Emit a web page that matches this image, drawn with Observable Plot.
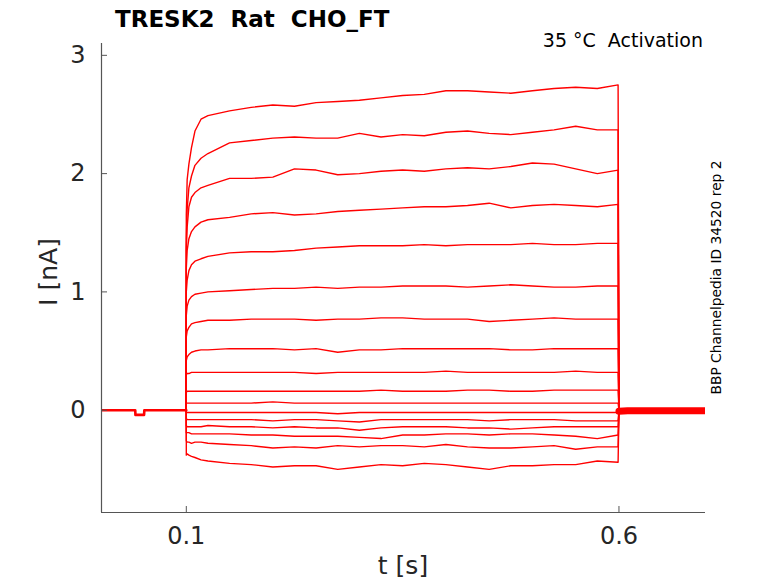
<!DOCTYPE html>
<html>
<head>
<meta charset="utf-8">
<script src="https://cdn.jsdelivr.net/npm/d3@7"></script>
<script src="https://cdn.jsdelivr.net/npm/@observablehq/plot@0.6"></script>
<style>
  html, body { margin: 0; padding: 0; background: #fff; }
  #chart { width: 778px; height: 583px; }
</style>
</head>
<body>
<div id="chart"></div>
<script>
// ---- data ----
const titleText = "TRESK2  Rat  CHO_FT";
const conditionText = "35 °C  Activation";
const sideText = "BBP Channelpedia ID 34520 rep 2";
const xLabel = "t [s]";
const yLabel = "I [nA]";
const xTicks = [0.1, 0.6];
const yTicks = [0, 1, 2, 3];
const xDomain = [0.002, 0.7];
const yDomain = [-0.865, 3.1];

const stepOn = 0.1;
const stepOff = 0.6;
const holding = 0;

// holding segment before the step (small dip near 45 ms)
const preTimes  = [0.002, 0.041, 0.0412, 0.0512, 0.0515, 0.1];
const preValues = [0, 0, -0.04, -0.04, 0, 0];
// holding segment after the step
const tailTimes  = [0.6, 0.61, 0.7];
const tailValues = [-0.01, -0.005, -0.005];

// sample times during the step
const sweepTimes = [0.1, 0.101, 0.103, 0.106, 0.11, 0.117, 0.125, 0.15, 0.175, 0.2, 0.225, 0.25, 0.275,
  0.3, 0.325, 0.35, 0.375, 0.4, 0.425, 0.45, 0.475, 0.5, 0.525, 0.55, 0.575, 0.599];

const sweep01 = [1.65, 1.95, 2.08, 2.22, 2.36, 2.46, 2.49, 2.53, 2.56, 2.58, 2.57, 2.60, 2.61, 2.62, 2.64, 2.66, 2.67, 2.70, 2.70, 2.69, 2.68, 2.70, 2.72, 2.73, 2.72, 2.75];
const sweep02 = [1.45, 1.70, 1.88, 1.98, 2.07, 2.13, 2.17, 2.26, 2.28, 2.30, 2.31, 2.30, 2.30, 2.34, 2.31, 2.33, 2.32, 2.35, 2.36, 2.34, 2.33, 2.35, 2.37, 2.40, 2.37, 2.37];
const sweep03 = [1.35, 1.55, 1.72, 1.80, 1.84, 1.88, 1.90, 1.96, 1.96, 1.97, 2.04, 2.03, 1.99, 2.00, 2.02, 2.03, 2.02, 2.04, 2.05, 2.04, 2.06, 2.09, 2.08, 2.04, 2.00, 2.03];
const sweep04 = [1.20, 1.35, 1.45, 1.51, 1.55, 1.59, 1.61, 1.63, 1.66, 1.67, 1.65, 1.66, 1.68, 1.69, 1.70, 1.71, 1.72, 1.72, 1.73, 1.75, 1.71, 1.73, 1.74, 1.73, 1.72, 1.74];
const sweep05 = [1.00, 1.10, 1.18, 1.23, 1.26, 1.28, 1.30, 1.33, 1.34, 1.34, 1.35, 1.37, 1.38, 1.39, 1.39, 1.39, 1.40, 1.39, 1.40, 1.40, 1.40, 1.41, 1.40, 1.40, 1.41, 1.41];
const sweep06 = [0.80, 0.88, 0.93, 0.96, 0.98, 0.99, 1.00, 1.01, 1.02, 1.03, 1.03, 1.04, 1.03, 1.04, 1.04, 1.05, 1.05, 1.05, 1.04, 1.05, 1.06, 1.05, 1.04, 1.04, 1.05, 1.05];
const sweep07 = [0.62, 0.67, 0.70, 0.73, 0.74, 0.75, 0.76, 0.76, 0.77, 0.77, 0.77, 0.76, 0.77, 0.77, 0.78, 0.78, 0.77, 0.77, 0.77, 0.75, 0.76, 0.77, 0.78, 0.77, 0.77, 0.77];
const sweep08 = [0.42, 0.45, 0.47, 0.49, 0.50, 0.51, 0.51, 0.52, 0.52, 0.52, 0.51, 0.52, 0.49, 0.51, 0.51, 0.52, 0.52, 0.52, 0.52, 0.52, 0.51, 0.51, 0.52, 0.52, 0.52, 0.52];
const sweep09 = [0.30, 0.31, 0.31, 0.32, 0.32, 0.32, 0.32, 0.32, 0.32, 0.32, 0.32, 0.31, 0.32, 0.32, 0.32, 0.32, 0.32, 0.33, 0.32, 0.32, 0.32, 0.32, 0.32, 0.33, 0.32, 0.32];
const sweep10 = [0.15, 0.16, 0.16, 0.16, 0.16, 0.16, 0.16, 0.16, 0.16, 0.16, 0.16, 0.16, 0.16, 0.16, 0.17, 0.16, 0.16, 0.16, 0.17, 0.17, 0.16, 0.16, 0.17, 0.17, 0.17, 0.17];
const sweep11 = [0.06, 0.06, 0.06, 0.06, 0.06, 0.06, 0.06, 0.06, 0.06, 0.07, 0.06, 0.06, 0.06, 0.06, 0.06, 0.06, 0.06, 0.06, 0.06, 0.06, 0.06, 0.06, 0.06, 0.06, 0.06, 0.06];
const sweep12 = [-0.02, -0.02, -0.02, -0.02, -0.02, -0.02, -0.02, -0.02, -0.02, -0.02, -0.02, -0.02, -0.03, -0.02, -0.02, -0.02, -0.02, -0.02, -0.02, -0.02, -0.02, -0.02, -0.02, -0.02, -0.02, -0.02];
const sweep13 = [-0.07, -0.08, -0.08, -0.08, -0.08, -0.08, -0.08, -0.08, -0.08, -0.09, -0.08, -0.08, -0.09, -0.10, -0.08, -0.08, -0.08, -0.08, -0.08, -0.09, -0.08, -0.08, -0.08, -0.09, -0.09, -0.09];
const sweep14 = [-0.13, -0.14, -0.14, -0.14, -0.14, -0.14, -0.13, -0.14, -0.14, -0.15, -0.14, -0.15, -0.15, -0.17, -0.15, -0.14, -0.14, -0.14, -0.15, -0.15, -0.16, -0.15, -0.14, -0.14, -0.14, -0.14];
const sweep15 = [-0.19, -0.19, -0.19, -0.20, -0.20, -0.20, -0.20, -0.20, -0.21, -0.21, -0.22, -0.22, -0.22, -0.23, -0.24, -0.21, -0.21, -0.20, -0.20, -0.21, -0.20, -0.20, -0.21, -0.22, -0.24, -0.21];
const sweep16 = [-0.26, -0.27, -0.27, -0.28, -0.27, -0.27, -0.28, -0.29, -0.30, -0.32, -0.31, -0.32, -0.30, -0.31, -0.30, -0.30, -0.31, -0.29, -0.31, -0.32, -0.32, -0.31, -0.30, -0.33, -0.31, -0.31];
const sweep17 = [-0.38, -0.37, -0.38, -0.39, -0.40, -0.42, -0.43, -0.45, -0.46, -0.48, -0.47, -0.47, -0.50, -0.48, -0.46, -0.47, -0.45, -0.46, -0.48, -0.50, -0.47, -0.47, -0.46, -0.46, -0.43, -0.44];

const sweeps = [sweep01, sweep02, sweep03, sweep04, sweep05, sweep06, sweep07, sweep08, sweep09,
  sweep10, sweep11, sweep12, sweep13, sweep14, sweep15, sweep16, sweep17];

// ---- build tables ----
const sweepRows = [];
sweeps.forEach((s, i) => {
  sweepRows.push({sweep: i, t: stepOn, v: holding});
  sweepTimes.forEach((t, j) => sweepRows.push({sweep: i, t, v: s[j]}));
  sweepRows.push({sweep: i, t: stepOff, v: holding});
});
const preRows = preTimes.map((t, i) => ({t, v: preValues[i]}));
const tailRows = tailTimes.map((t, i) => ({t, v: tailValues[i]}));

const RED = "#ff0000";
const AX = "#262626";
const LINE = "#555";
const FONT = "DejaVu Sans";

const svg = Plot.plot({
  width: 778,
  height: 583,
  marginLeft: 101,
  marginRight: 73,
  marginTop: 43,
  marginBottom: 71,
  style: {fontFamily: FONT, background: "#fff", color: AX},
  x: {domain: xDomain},
  y: {domain: yDomain},
  marks: [
    Plot.line(preRows, {x: "t", y: "v", stroke: RED, strokeWidth: 2.6, clip: true}),
    Plot.line(tailRows, {x: "t", y: "v", stroke: RED, strokeWidth: 7, clip: true}),
    Plot.line(sweepRows, {x: "t", y: "v", z: "sweep", stroke: RED, strokeWidth: 1.4, clip: true}),
    Plot.ruleY([yDomain[0]], {stroke: LINE, strokeWidth: 1.2}),
    Plot.ruleX([xDomain[0]], {stroke: LINE, strokeWidth: 1.2}),
    Plot.axisX({ticks: xTicks, tickSize: -6, tickPadding: 20, fontSize: 24,
      label: null, tickFormat: d => String(d), stroke: LINE, fill: AX}),
    Plot.axisY({ticks: yTicks, tickSize: -6, tickPadding: 22, fontSize: 24,
      label: null, tickFormat: d => String(d), stroke: LINE, fill: AX})
  ]
});

document.getElementById("chart").appendChild(svg);

const s = d3.select(svg);
s.append("text")
  .attr("x", 115).attr("y", 27).attr("text-anchor", "start")
  .attr("font-family", FONT).attr("font-size", 23).attr("font-weight", "bold")
  .attr("fill", "#000").style("white-space", "pre")
  .text(titleText);
s.append("text")
  .attr("x", 703).attr("y", 47).attr("text-anchor", "end")
  .attr("font-family", FONT).attr("font-size", 19)
  .attr("fill", "#000").style("white-space", "pre")
  .text(conditionText);
s.append("text")
  .attr("transform", "translate(721,277.5) rotate(-90)")
  .attr("text-anchor", "middle")
  .attr("font-family", FONT).attr("font-size", 13.8)
  .attr("fill", "#000")
  .text(sideText);
s.append("text")
  .attr("x", 403).attr("y", 574).attr("text-anchor", "middle")
  .attr("font-family", FONT).attr("font-size", 25)
  .attr("fill", AX)
  .text(xLabel);
s.append("text")
  .attr("transform", "translate(57,272) rotate(-90)")
  .attr("text-anchor", "middle")
  .attr("font-family", FONT).attr("font-size", 25)
  .attr("fill", AX)
  .text(yLabel);
</script>
</body>
</html>
